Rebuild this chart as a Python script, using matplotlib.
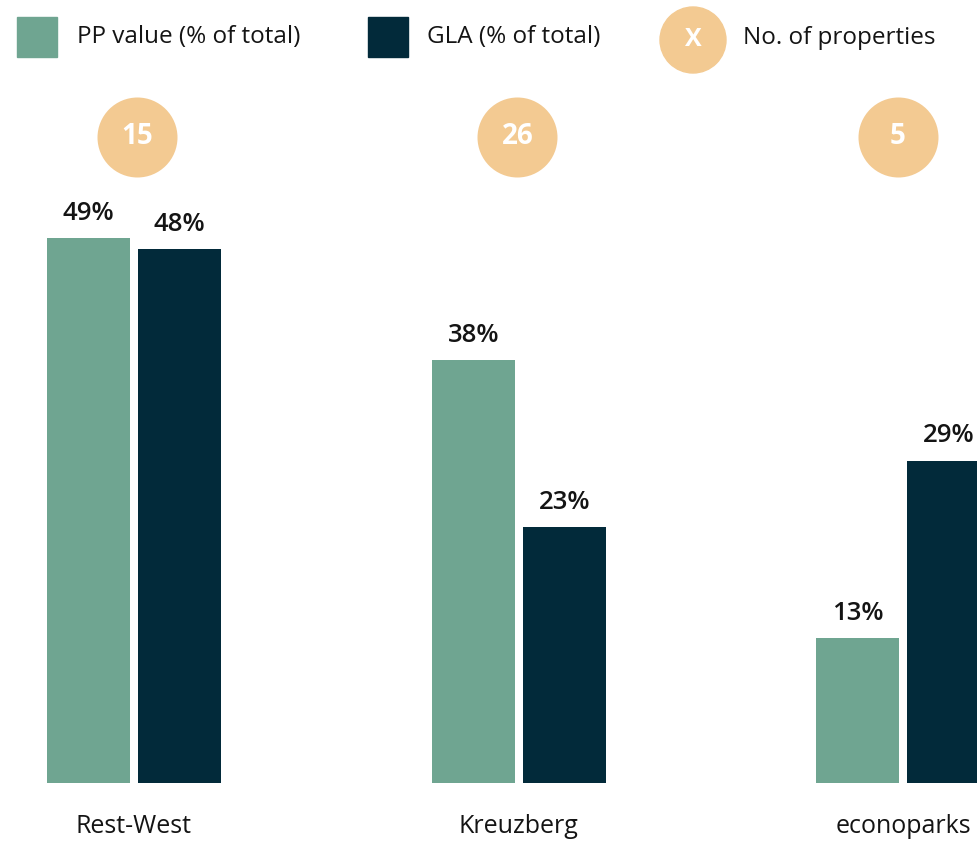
import matplotlib.pyplot as plt
from matplotlib.patches import Rectangle, Ellipse
import numpy as np

plt.rcParams['font.family'] = ['Open Sans', 'DejaVu Sans']

categories = ['Rest-West', 'Kreuzberg', 'econoparks']
pp_value = [49, 38, 13]
gla = [48, 23, 29]
n_properties = [15, 26, 5]

GREEN = '#6fa591'
DARK = '#022a3a'
PEACH = '#f3ca92'
TEXT = '#141414'

W, H = 978, 843
fig = plt.figure(figsize=(W / 100, H / 100), dpi=100)

# axes: baseline 60px above bottom, 11.12px per percent
base_px = 60
px_per_pct = 11.12
ax = fig.add_axes([0, base_px / H, 1, (H - base_px) / H])
ax.set_ylim(0, (H - base_px) / px_per_pct)
spacing = 384.7
x0 = 134
ax.set_xlim(-x0 / spacing, (W - x0) / spacing)
ax.axis('off')

x = np.arange(len(categories))
bw = 83 / spacing
off = 45.5 / spacing
ax.bar(x - off, pp_value, bw, color=GREEN)
ax.bar(x + off, gla, bw, color=DARK)

for xs, vals in ((x - off, pp_value), (x + off, gla)):
    for xi, v in zip(xs, vals):
        ax.annotate(f'{v}%', (xi, v), xytext=(0, 18), textcoords='offset points',
                    ha='center', va='center', fontsize=18.5, fontweight='semibold',
                    color=TEXT)

# property count bubbles, spaced a little tighter than the bar groups
circ_y = (783 - 137) / px_per_pct
circ_x = 3 / spacing + x * (380.5 / spacing)
ax.scatter(circ_x, [circ_y] * len(x), s=57.6 ** 2, color=PEACH, zorder=3, linewidths=0)
for xi, n in zip(circ_x, n_properties):
    ax.text(xi, circ_y, str(n), ha='center', va='center', fontsize=20,
            fontweight='bold', color='white', zorder=4)

for xi, c in zip(x, categories):
    ax.annotate(c, (xi, 0), xytext=(0, -31), textcoords='offset points',
                ha='center', va='center', fontsize=18, color=TEXT)

# legend along the top
def fy(py):
    return 1 - py / H

fig.patches.append(Rectangle((17 / W, fy(57)), 40 / W, 40 / H, color=GREEN,
                             transform=fig.transFigure, figure=fig))
fig.text(77 / W, fy(37), 'PP value (% of total)', ha='left', va='center',
         fontsize=17.5, color=TEXT)
fig.patches.append(Rectangle((368 / W, fy(57)), 40 / W, 40 / H, color=DARK,
                             transform=fig.transFigure, figure=fig))
fig.text(427 / W, fy(37), 'GLA (% of total)', ha='left', va='center',
         fontsize=17.5, color=TEXT)
fig.patches.append(Ellipse((693 / W, fy(40)), 66 / W, 66 / H, color=PEACH,
                           transform=fig.transFigure, figure=fig))
fig.text(693 / W, fy(40), 'X', ha='center', va='center', fontsize=18,
         fontweight='bold', color='white')
fig.text(743 / W, fy(38), 'No. of properties', ha='left', va='center',
         fontsize=17.5, color=TEXT)

fig.savefig('out.png', dpi=100)
